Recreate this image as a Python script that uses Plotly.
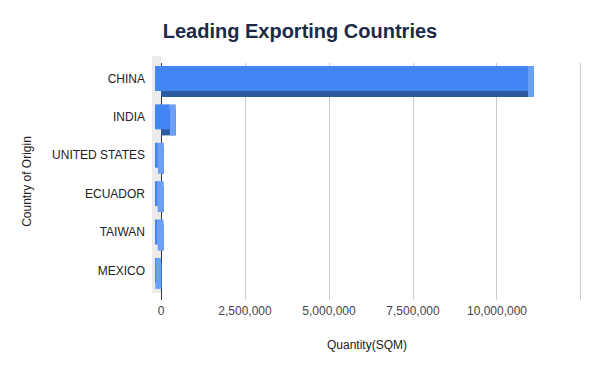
import plotly.graph_objects as go

countries = ["CHINA", "INDIA", "UNITED STATES", "ECUADOR", "TAIWAN", "MEXICO"]
quantity = [11100000, 440000, 85000, 80000, 78000, 8000]
tick_vals = [0, 2500000, 5000000, 7500000, 10000000, 12500000]
tick_text = ["0", "2,500,000", "5,000,000", "7,500,000", "10,000,000", ""]

# 3D-effect depth (data units along x) used for styling only
DEPTH = 178000
side_base = [q - DEPTH for q in quantity]

FRONT_COL = "#4285F4"
DARK_COL = "#2c5aa0"
SIDE_COL = "#6c9ff6"

fig = go.Figure()
# bottom (dark) face
fig.add_trace(go.Bar(
    y=countries, x=quantity, base=0, orientation="h",
    offset=-0.195, width=0.677, marker=dict(color=DARK_COL, line=dict(width=0)),
    showlegend=False, hoverinfo="skip"))
# right side face
fig.add_trace(go.Bar(
    y=countries, x=[DEPTH] * len(quantity), base=side_base, orientation="h",
    offset=-0.326, width=0.807, marker=dict(color=SIDE_COL, line=dict(width=0)),
    showlegend=False, hoverinfo="skip"))
# front face
fig.add_trace(go.Bar(
    y=countries, x=quantity, base=-DEPTH, orientation="h",
    offset=-0.326, width=0.651, marker=dict(color=FRONT_COL, line=dict(width=0)),
    showlegend=False, hovertemplate="%{y}: %{x:,}<extra></extra>"))

# back wall of the 3D box
fig.add_shape(type="rect", xref="x", yref="paper", x0=-DEPTH * 1.5, x1=0,
              y0=0.03, y1=1.03, fillcolor="#ebebeb", line=dict(width=0), layer="below")

# page body has an 8px default margin, so the figure is 592x363
fig.update_layout(
    width=592, height=363,
    margin=dict(l=144, r=18, t=55, b=71, autoexpand=False),
    paper_bgcolor="white", plot_bgcolor="white",
    font=dict(family="Arial, Liberation Sans, sans-serif", size=12, color="#222222"),
    title=dict(text="<b>Leading Exporting Countries</b>", x=0.4932, xanchor="center",
               xref="container", yref="container", y=0.9366, yanchor="middle", automargin=False,
               font=dict(size=20, color="#1b2a47", family="Arial, Liberation Sans, sans-serif")),
    barmode="overlay",
    xaxis=dict(range=[-268000, 12530000], tickvals=tick_vals, ticktext=tick_text,
               automargin=False,
               showgrid=True, gridcolor="#cccccc", gridwidth=1,
               zeroline=True, zerolinecolor="#333333", zerolinewidth=1,
               showline=False, ticks="", ticklabelstandoff=2,
               tickfont=dict(size=12, color="#444444"),
               title=dict(text="Quantity(SQM)", standoff=23,
                          font=dict(size=12, color="#222222"))),
    yaxis=dict(autorange=False, range=[5.77, -0.404], showgrid=False, zeroline=False,
               automargin=False,
               showline=False, ticks="", ticklabelstandoff=6,
               tickfont=dict(size=12, color="#222222"),
               title=dict(text="Country of Origin", standoff=17,
                          font=dict(size=12, color="#222222"))),
)

fig.write_html("out.html")
